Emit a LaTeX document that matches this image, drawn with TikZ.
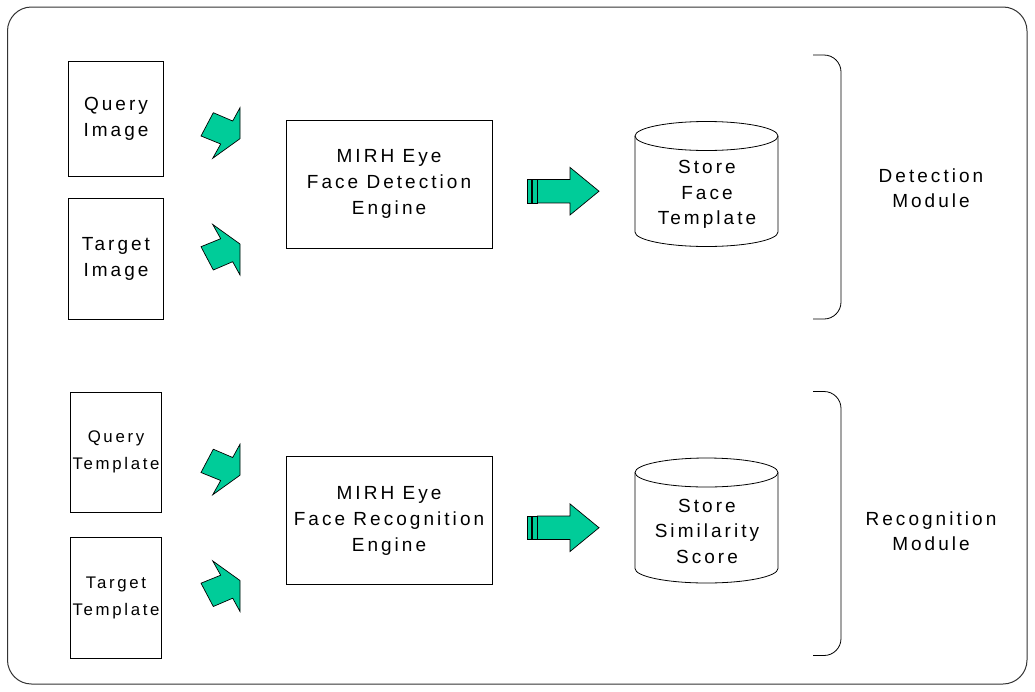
\documentclass[tikz,border=0pt]{standalone}
\usepackage{fontspec}
\setmainfont{Liberation Sans}[LetterSpace=16]
\definecolor{agreen}{HTML}{00CC99}
\definecolor{frame}{HTML}{333333}
\tikzset{
  box/.style={draw=black, line width=0.8pt, inner sep=0pt, align=center,
    font=\fontsize{19}{26}\selectfont},
  smallbox/.style={box, font=\fontsize{16.8}{27}\selectfont},
  lbl/.style={inner sep=0pt, align=center, font=\fontsize{19}{25.5}\selectfont},
  arrowfill/.style={fill=agreen, draw=black, line width=0.7pt, line join=miter},
  skewarrow/.pic={
    \path[arrowfill] (240,-25.3) -- (240,5.7) -- (212.7,25.3) -- (220.7,11)
      -- (201,3) -- (213.3,-20.3) -- (232.7,-12) -- cycle;
  },
  striparrow/.pic={
    \path[arrowfill] (527,-11.7) rectangle (531,11.7);
    \path[arrowfill] (532.5,-11.7) rectangle (537,11.7);
    \path[arrowfill] (537.5,-11.7) -- (570,-11.7) -- (570,-23.8) -- (599,0)
      -- (570,23.8) -- (570,11.7) -- (537.5,11.7) -- cycle;
  },
  bracket/.style={draw=black, line width=0.8pt, rounded corners=17pt}
}
\begin{document}
\begin{tikzpicture}[x=1pt,y=-1pt]
\useasboundingbox (0,0) rectangle (1035,691);
% outer frame
\draw[frame, line width=1pt, rounded corners=24pt] (7.5,7) rectangle (1027,684);

% input boxes
\node[box, minimum width=95pt, minimum height=115pt] (qi) at (116,118.5) {Query\\Image};
\node[box, minimum width=95pt, minimum height=121pt] (ti) at (116,258.5) {Target\\Image};
\node[smallbox, minimum width=91pt, minimum height=120pt] (qt) at (116,452) {Query\\Template};
\node[smallbox, minimum width=91pt, minimum height=121pt] (tt) at (116,597.5) {Target\\Template};

% engines
\node[box, minimum width=206pt, minimum height=128pt] (de) at (389,184) {MIRH Eye\\Face Detection\\Engine};
\node[box, minimum width=206pt, minimum height=128pt] (re) at (389,520.5) {MIRH Eye\\Face Recognition\\Engine};

% skewed arrows
\pic at (0,133) {skewarrow};
\pic[yscale=-1] at (0,249.7) {skewarrow};
\pic at (0,469.5) {skewarrow};
\pic[yscale=-1] at (0,586.2) {skewarrow};

% striped arrows
\pic at (0,191.2) {striparrow};
\pic at (0,527.7) {striparrow};

% cylinders
\foreach \cy/\nm/\txt in {0/sf/{Store\\Face\\Template}, 336.5/ss/{Store\\Similarity\\Score}} {
  \begin{scope}[yshift=-\cy pt]
    \draw[line width=0.8pt] (635,136) -- (635,232)
      arc[start angle=180, end angle=360, x radius=71.5pt, y radius=14.5pt]
      -- (778,136);
    \draw[line width=0.8pt] (706.5,136) ellipse [x radius=71.5pt, y radius=14.5pt];
    \node[lbl] (\nm) at (707,194.5) {\txt};
  \end{scope}
}

% brackets
\draw[bracket] (813,55) -- (841,55) -- (841,319) -- (813,319);
\draw[bracket] (813,391.5) -- (841,391.5) -- (841,655.5) -- (813,655.5);

% module labels
\node[lbl] (dm) at (931,188) {Detection\\Module};
\node[lbl] (rm) at (931,531) {Recognition\\Module};
\end{tikzpicture}
\end{document}
